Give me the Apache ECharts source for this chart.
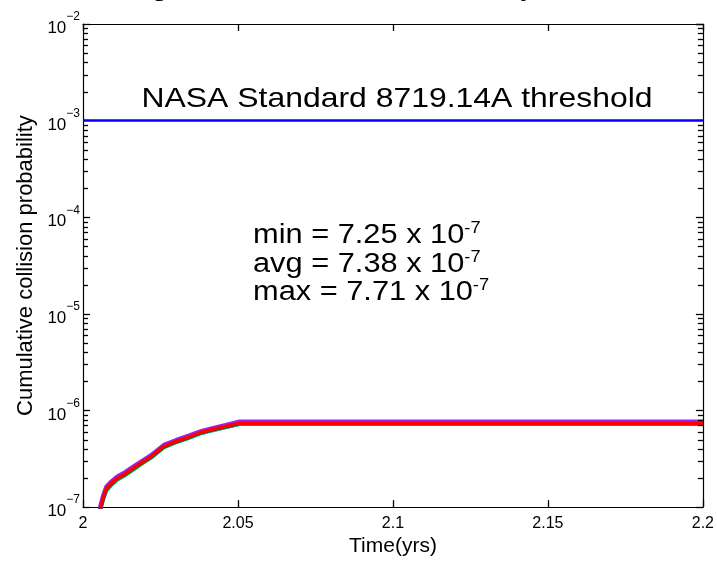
<!DOCTYPE html>
<html>
<head>
<meta charset="utf-8">
<script src="https://cdn.jsdelivr.net/npm/echarts@6/dist/echarts.min.js"></script>
<style>
  html, body { margin: 0; padding: 0; background: #ffffff; }
  #chart { width: 717px; height: 562px; }
</style>
</head>
<body>
<div id="chart"></div>
<script>
// Time samples (years) shared by every Monte Carlo run
const timeYrs = [2.0055, 2.0065, 2.0075, 2.009, 2.011, 2.0135, 2.016, 2.019, 2.022,
                 2.026, 2.030, 2.034, 2.038, 2.042, 2.046, 2.0505, 2.2];

// Cumulative collision probability of each run
const runCyan   = [0.92e-7, 1.20e-7, 1.48e-7, 1.68e-7, 1.92e-7, 2.13e-7, 2.42e-7, 2.82e-7, 3.25e-7,
                   4.15e-7, 4.68e-7, 5.18e-7, 5.80e-7, 6.25e-7, 6.70e-7, 7.25e-7, 7.25e-7];
const runGreen  = [0.93e-7, 1.22e-7, 1.50e-7, 1.70e-7, 1.94e-7, 2.15e-7, 2.45e-7, 2.85e-7, 3.28e-7,
                   4.18e-7, 4.72e-7, 5.22e-7, 5.85e-7, 6.30e-7, 6.75e-7, 7.30e-7, 7.30e-7];
const runBlue   = [0.96e-7, 1.27e-7, 1.57e-7, 1.77e-7, 2.01e-7, 2.23e-7, 2.53e-7, 2.93e-7, 3.38e-7,
                   4.28e-7, 4.83e-7, 5.33e-7, 5.98e-7, 6.43e-7, 6.88e-7, 7.41e-7, 7.41e-7];
const runPurple = [1.00e-7, 1.33e-7, 1.63e-7, 1.83e-7, 2.07e-7, 2.30e-7, 2.61e-7, 3.01e-7, 3.46e-7,
                   4.40e-7, 4.95e-7, 5.48e-7, 6.12e-7, 6.60e-7, 7.08e-7, 7.71e-7, 7.71e-7];
const runRed    = [0.95e-7, 1.25e-7, 1.55e-7, 1.75e-7, 1.98e-7, 2.20e-7, 2.50e-7, 2.90e-7, 3.35e-7,
                   4.25e-7, 4.80e-7, 5.30e-7, 5.95e-7, 6.40e-7, 6.85e-7, 7.38e-7, 7.38e-7];

// Threshold line (NASA Standard 8719.14A)
const thresholdTimes = [2.0, 2.2];
const thresholdValue = 1e-3;

// Axis ranges and tick labels
const xMin = 2.0, xMax = 2.2, xStep = 0.05;
const xTickLabels = ['2', '2.05', '2.1', '2.15', '2.2'];
const yMin = 1e-7, yMax = 1e-2;
const yTickExponents = [-7, -6, -5, -4, -3, -2];

// Summary statistics text
const statLines = [
  ['min = 7.25 x 10', '-7'],
  ['avg = 7.38 x 10', '-7'],
  ['max = 7.71 x 10', '-7']
];

const FONT = 'Arial, "Liberation Sans", sans-serif';

function pairs(xs, ys) { return xs.map((x, i) => [x, ys[i]]); }

// Minor ticks of the log axis at 2..9 x 10^n
const minorTicks = [];
for (let e = -7; e < -2; e++) {
  for (let k = 2; k <= 9; k++) minorTicks.push([xMin, k * Math.pow(10, e)]);
}

function runSeries(name, values, color, width) {
  return {
    name: name, type: 'line', data: pairs(timeYrs, values),
    showSymbol: false, symbol: 'none', smooth: false, animation: false,
    lineStyle: { color: color, width: width }, itemStyle: { color: color },
    z: 3
  };
}

const chart = echarts.init(document.getElementById('chart'), null, { renderer: 'canvas' });

function axisParts() {
  return {
    axisLine: { show: true, onZero: false, lineStyle: { color: '#000', width: 1.2 } },
    axisTick: { show: true, inside: true, length: 7, lineStyle: { color: '#000', width: 1.3 } },
    minorTick: { show: false },
    splitLine: { show: false },
    minorSplitLine: { show: false }
  };
}

chart.setOption({
  animation: false,
  backgroundColor: '#ffffff',
  grid: { left: 83, right: 14, top: 24, bottom: 51, containLabel: false },
  xAxis: [
    Object.assign({
      type: 'value', min: xMin, max: xMax, interval: xStep, position: 'bottom',
      name: 'Time(yrs)', nameLocation: 'middle', nameGap: 27,
      nameTextStyle: { fontFamily: FONT, fontSize: 21, color: '#000' },
      axisLabel: {
        show: true, margin: 8, color: '#000', fontFamily: FONT, fontSize: 16,
        formatter: (v, i) => xTickLabels[i] !== undefined ? xTickLabels[i] : ''
      }
    }, axisParts()),
    Object.assign({
      type: 'value', min: xMin, max: xMax, interval: xStep, position: 'top',
      axisLabel: { show: false }
    }, axisParts())
  ],
  yAxis: [
    Object.assign({
      type: 'log', logBase: 10, min: yMin, max: yMax, position: 'left',
      name: 'Cumulative collision probability', nameLocation: 'middle', nameGap: 46,
      nameTextStyle: { fontFamily: FONT, fontSize: 22, color: '#000' },
      axisLabel: {
        show: true, margin: 3, color: '#000',
        formatter: (v) => {
          const e = Math.round(Math.log10(v));
          if (yTickExponents.indexOf(e) < 0) return '';
          return '{b|10}{s|\u2212' + (-e) + '}';
        },
        rich: {
          b: { fontFamily: FONT, fontSize: 17, color: '#000', lineHeight: 26, verticalAlign: 'bottom' },
          s: { fontFamily: FONT, fontSize: 12, color: '#000', lineHeight: 26, verticalAlign: 'top' }
        }
      }
    }, axisParts()),
    Object.assign({
      type: 'log', logBase: 10, min: yMin, max: yMax, position: 'right',
      axisLabel: { show: false }
    }, axisParts())
  ],
  graphic: [
    {
      type: 'text', x: 102, y: -24, scaleX: 1.14, silent: true,
      style: { text: 'Long-term collision risk summary', font: '26px ' + FONT, fill: '#000',
               textAlign: 'left', textVerticalAlign: 'top', lineHeight: 26 }
    },
    {
      type: 'text', x: 397, y: 84, scaleX: 1.14, silent: true,
      style: { text: 'NASA Standard 8719.14A threshold', font: '28px ' + FONT, fill: '#000',
               textAlign: 'center', textVerticalAlign: 'top', lineHeight: 30 }
    }
  ].concat(statLines.map((ln, i) => ({
    type: 'text', x: 253, y: 221 + i * 28.5, scaleX: 1.14, silent: true,
    style: {
      text: '{a|' + ln[0] + '}{s|' + ln[1] + '}',
      textAlign: 'left', textVerticalAlign: 'top',
      rich: {
        a: { fontFamily: FONT, fontSize: 27, fill: '#000', color: '#000', lineHeight: 30, verticalAlign: 'middle' },
        s: { fontFamily: FONT, fontSize: 16, fill: '#000', color: '#000', lineHeight: 30, verticalAlign: 'top' }
      }
    }
  }))),
  series: [
    {
      name: 'threshold', type: 'line', data: pairs(thresholdTimes, [thresholdValue, thresholdValue]),
      showSymbol: false, symbol: 'none', lineStyle: { color: '#0000ff', width: 2.5 }, z: 2
    },
    runSeries('run 1', runCyan, '#00c8c8', 4),
    runSeries('run 2', runGreen, '#00a000', 4),
    runSeries('run 3', runBlue, '#0000ff', 4),
    runSeries('run 4', runPurple, '#a020f0', 4),
    runSeries('run 5', runRed, '#ff0000', 3.5),
    {
      name: 'minor ticks', type: 'custom', coordinateSystem: 'cartesian2d',
      xAxisIndex: 0, yAxisIndex: 0, data: minorTicks, silent: true, z: 10, clip: false,
      encode: { x: 0, y: 1 },
      renderItem: (params, api) => {
        const v = api.value(1);
        const pl = api.coord([xMin, v]);
        const pr = api.coord([xMax, v]);
        const st = { stroke: '#000', lineWidth: 1.3, fill: null };
        return {
          type: 'group', children: [
            { type: 'line', shape: { x1: pl[0], y1: Math.round(pl[1]) + 0.5, x2: pl[0] + 5, y2: Math.round(pl[1]) + 0.5 }, style: st },
            { type: 'line', shape: { x1: pr[0], y1: Math.round(pr[1]) + 0.5, x2: pr[0] - 5, y2: Math.round(pr[1]) + 0.5 }, style: st }
          ]
        };
      }
    }
  ]
});
</script>
</body>
</html>
